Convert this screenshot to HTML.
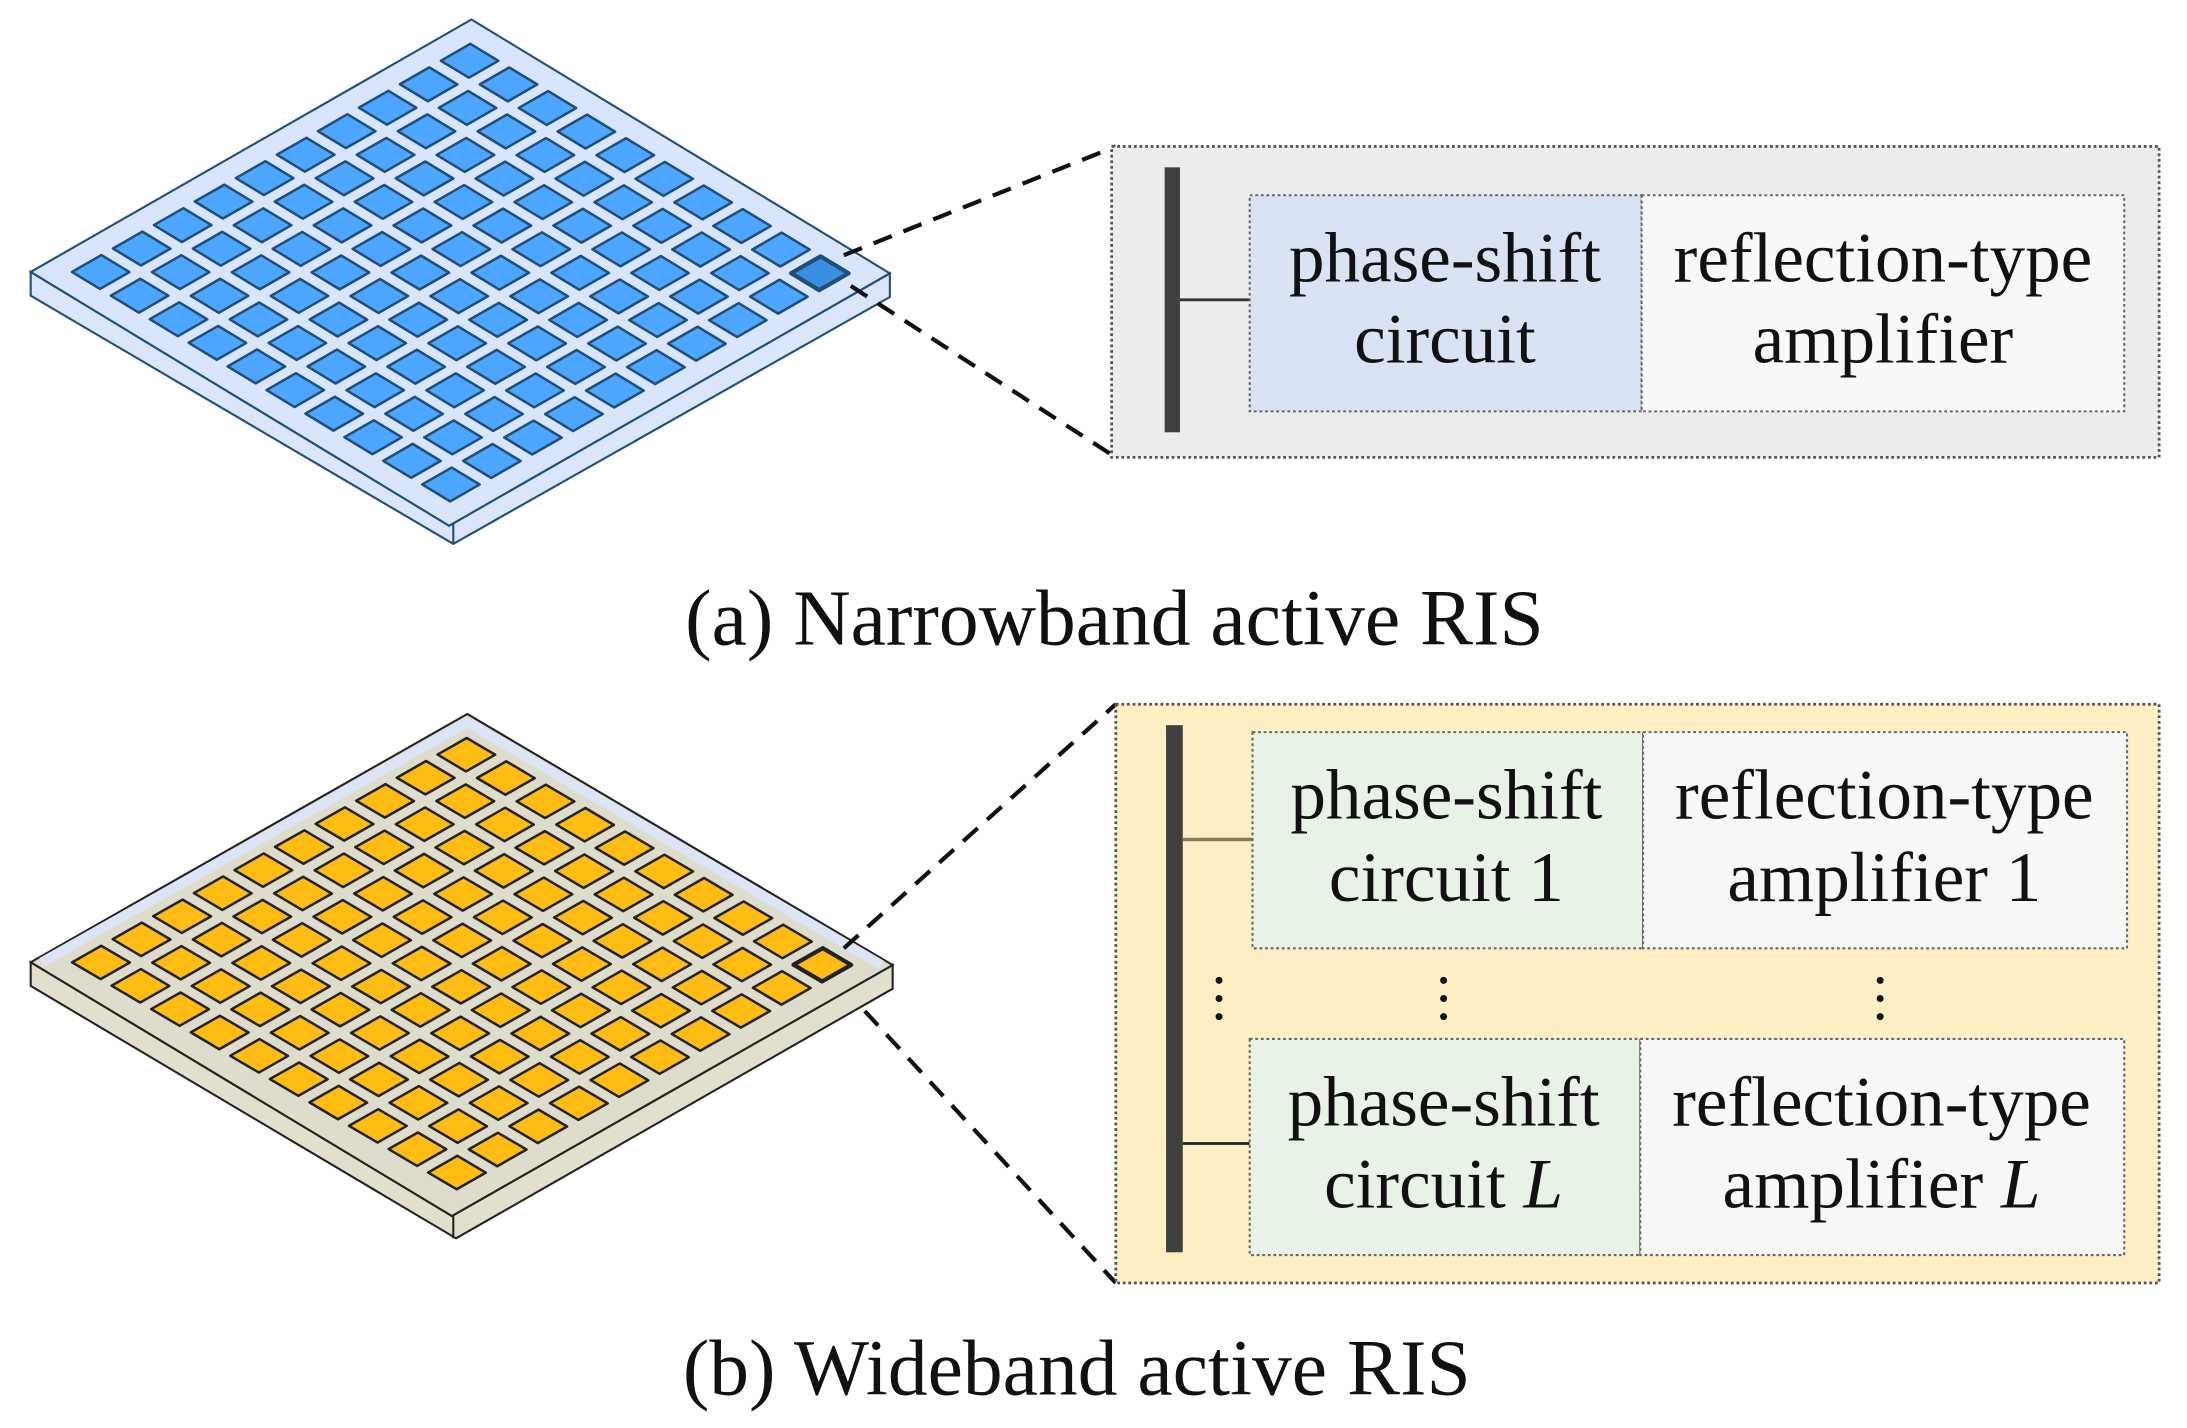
<!DOCTYPE html>
<html><head><meta charset="utf-8"><style>
html,body{margin:0;padding:0;background:#fff;}
svg{display:block}
text{font-family:"Liberation Serif",serif;fill:#111}
</style></head><body>
<svg id="s" width="2187" height="1428" viewBox="0 0 1568 1024" preserveAspectRatio="none" xmlns="http://www.w3.org/2000/svg">
<polygon points="22,195 22,212 325,390 638,213 638,196 322,377" fill="#dbe6fb" stroke="#1f4e79" stroke-width="1.5"/>
<line x1="325" y1="375" x2="325" y2="390" stroke="#1f4e79" stroke-width="1.5"/>
<polygon points="338,14 22,195 322,377 638,196" fill="#d8e5fb" stroke="#1f4e79" stroke-width="1.5"/>
<g id="ta"></g>
<polygon points="22,690 22,707 327,888 640,709 640,692 324,872" fill="#e2dfcc" stroke="#222" stroke-width="1.5"/>
<line x1="325" y1="872" x2="325" y2="888" stroke="#222" stroke-width="1.5"/>
<polygon points="335,512 22,690 324,872 640,692" fill="#dedccb" stroke="#222" stroke-width="1.5"/>
<polyline points="30,690 335,518 632,692" fill="none" stroke="#dce5f5" stroke-width="7"/>
<g id="tb"></g>

<g stroke="#111" stroke-width="3" stroke-dasharray="14,9" fill="none">
<line x1="605" y1="183" x2="800" y2="105"/>
<line x1="610" y1="205" x2="800" y2="328"/>
<line x1="605" y1="680" x2="800" y2="505"/>
<line x1="620" y1="725" x2="800" y2="920"/>
</g>

<rect x="797" y="105" width="751" height="223" fill="#ececec" stroke="#555" stroke-width="2" stroke-dasharray="2,2"/>
<rect x="835" y="120" width="11" height="190" fill="#404040"/>
<line x1="846" y1="215" x2="896" y2="215" stroke="#333" stroke-width="2"/>
<rect x="896" y="140" width="281" height="155" fill="#dae3f3" stroke="#666" stroke-width="1.5" stroke-dasharray="2,2"/>
<rect x="1177" y="140" width="346" height="155" fill="#f8f8f8" stroke="#666" stroke-width="1.5" stroke-dasharray="2,2"/>
<g font-size="51" text-anchor="middle">
<text x="1036" y="202">phase-shift</text>
<text x="1036" y="260">circuit</text>
<text x="1350" y="202">reflection-type</text>
<text x="1350" y="260">amplifier</text>
</g>
<text x="799" y="462" font-size="57" text-anchor="middle">(a) Narrowband active RIS</text>

<rect x="800" y="505" width="748" height="415" fill="#fdeec4" stroke="#555" stroke-width="2" stroke-dasharray="2,2"/>
<rect x="836" y="520" width="12" height="378" fill="#404040"/>
<line x1="848" y1="602" x2="898" y2="602" stroke="#8a7a55" stroke-width="2.5"/>
<line x1="848" y1="820" x2="896" y2="820" stroke="#222" stroke-width="2"/>
<rect x="898" y="525" width="280" height="155" fill="#e9f2e6" stroke="#666" stroke-width="1.5" stroke-dasharray="2,2"/>
<rect x="1178" y="525" width="347" height="155" fill="#f7f7f7" stroke="#666" stroke-width="1.5" stroke-dasharray="2,2"/>
<rect x="896" y="745" width="280" height="155" fill="#e9f2e6" stroke="#666" stroke-width="1.5" stroke-dasharray="2,2"/>
<rect x="1176" y="745" width="347" height="155" fill="#f7f7f7" stroke="#666" stroke-width="1.5" stroke-dasharray="2,2"/>
<g fill="#111">
<circle cx="874" cy="703" r="2.5"/><circle cx="874" cy="716" r="2.5"/><circle cx="874" cy="729" r="2.5"/>
<circle cx="1035" cy="703" r="2.5"/><circle cx="1035" cy="716" r="2.5"/><circle cx="1035" cy="729" r="2.5"/>
<circle cx="1348" cy="703" r="2.5"/><circle cx="1348" cy="716" r="2.5"/><circle cx="1348" cy="729" r="2.5"/>
</g>
<g font-size="51" text-anchor="middle">
<text x="1037" y="587">phase-shift</text>
<text x="1037" y="646">circuit 1</text>
<text x="1351" y="587">reflection-type</text>
<text x="1351" y="646">amplifier 1</text>
<text x="1035" y="807">phase-shift</text>
<text x="1035" y="866">circuit <tspan font-style="italic">L</tspan></text>
<text x="1349" y="807">reflection-type</text>
<text x="1349" y="866">amplifier <tspan font-style="italic">L</tspan></text>
</g>
<text x="772" y="1000" font-size="57" text-anchor="middle">(b) Wideband active RIS</text>
</svg>
<script>
function tiles(id,A,L,R,fill,stroke,hi){
  var g=document.getElementById(id),N=10,m=0.035,step=(1-2*m)/N,ts=step*0.72,off=(step-ts)/2,s="";
  function P(u,v){return [A[0]+u*(L[0]-A[0])+v*(R[0]-A[0]),A[1]+u*(L[1]-A[1])+v*(R[1]-A[1])];}
  for(var i=0;i<N;i++)for(var j=0;j<N;j++){
    var u=m+i*step+off,v=m+j*step+off;
    var p=[P(u,v),P(u+ts,v),P(u+ts,v+ts),P(u,v+ts)];
    var isH=(i==0&&j==N-1);
    s+='<polygon points="'+p.map(function(q){return q[0].toFixed(1)+','+q[1].toFixed(1)}).join(' ')+'" fill="'+(isH?hi:fill)+'" stroke="'+stroke+'" stroke-width="'+(isH?3:1.8)+'" stroke-linejoin="round"/>';
  }
  g.innerHTML=s;
}
tiles("ta",[338,14],[22,195],[638,196],"#4da6ff","#1f4e79","#3a8fe0");
tiles("tb",[335,512],[22,690],[640,692],"#ffbd14","#222","#ffbd14");
</script>
</body></html>
